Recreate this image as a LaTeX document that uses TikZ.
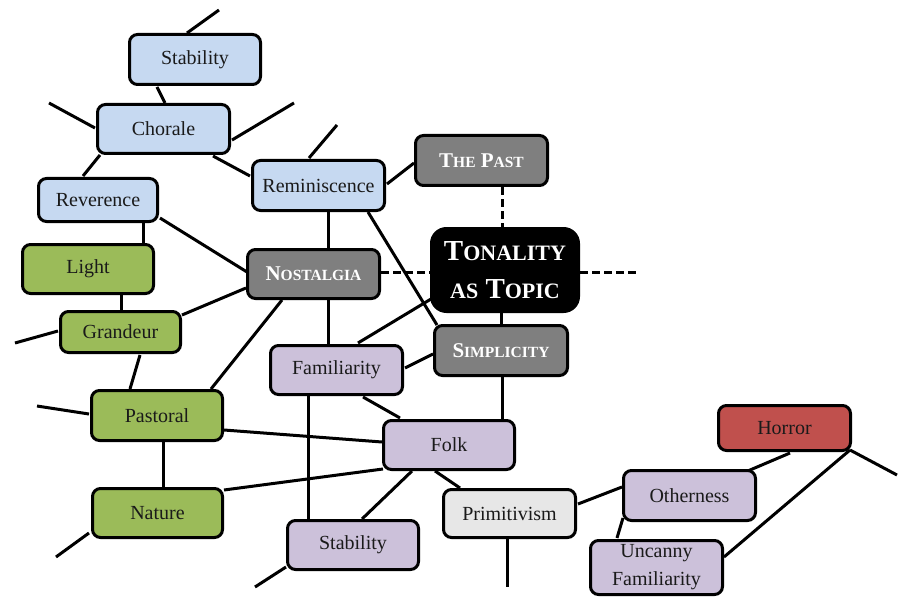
\documentclass[tikz,border=0pt]{standalone}
\usepackage{fontspec}
\setmainfont{Liberation Serif}
\usetikzlibrary{calc}
\definecolor{blueF}{HTML}{C6D9F1}
\definecolor{greenF}{HTML}{9BBB59}
\definecolor{greyF}{HTML}{7F7F7F}
\definecolor{purF}{HTML}{CCC1DA}
\definecolor{redF}{HTML}{C0504D}
\definecolor{lgF}{HTML}{E7E7E7}
\definecolor{txt}{HTML}{1A1A1A}
\pgfdeclarelayer{bg}
\pgfsetlayers{bg,main}
\newcommand\scA[1]{{\fontsize{15.5}{18}\selectfont #1}}
\newcommand\scB[1]{{\fontsize{22}{24}\selectfont #1}}
\tikzset{
  box/.style={draw=black, line width=3pt, rounded corners=8pt, inner sep=0pt,
    align=center, text=txt, font=\fontsize{20}{28}\selectfont},
  bluebox/.style={box, fill=blueF},
  greenbox/.style={box, fill=greenF},
  greybox/.style={box, fill=greyF, text=white, font=\fontsize{21}{24}\selectfont\bfseries},
  purbox/.style={box, fill=purF},
  redbox/.style={box, fill=redF},
  lgbox/.style={box, fill=lgF},
  centerbox/.style={box, fill=black, text=white, rounded corners=15pt,
    font=\fontsize{29}{38}\selectfont\bfseries},
  conn/.style={line width=3pt, black},
  dconn/.style={line width=3pt, black, dash pattern=on 8pt off 4pt},
}
\begin{document}
\begin{tikzpicture}[x=1pt,y=-1pt]
\useasboundingbox (0,0) rectangle (900,599);

\node[bluebox, minimum width=131pt, minimum height=50pt] (st1) at (195,59.5) {Stability};
\node[bluebox, minimum width=132pt, minimum height=49pt] (cho) at (163.5,129) {Chorale};
\node[bluebox, minimum width=119pt, minimum height=43pt] (rev) at (98,200) {Reverence};
\node[bluebox, minimum width=132pt, minimum height=50pt] (rem) at (318.5,185.5) {Reminiscence};
\node[greenbox, minimum width=131pt, minimum height=49pt] (lig) at (88,269) {Light};
\node[greybox, minimum width=132pt, minimum height=49pt] (nos) at (313.5,274) {N\scA{OSTALGIA}};
\node[greybox, minimum width=132pt, minimum height=50pt] (past) at (481.5,160.5) {T\scA{HE} P\scA{AST}};
\node[centerbox, minimum width=147pt, minimum height=83pt] (ton) at (505,270) {T\scB{ONALITY}\\\scB{AS} T\scB{OPIC}};
\node[greybox, minimum width=133pt, minimum height=50pt] (sim) at (501,350.5) {S\scA{IMPLICITY}};
\node[purbox, minimum width=132pt, minimum height=49pt] (fam) at (336.5,370) {Familiarity};
\node[purbox, minimum width=131pt, minimum height=49pt] (folk) at (449,445) {Folk};
\node[greenbox, minimum width=120pt, minimum height=41pt] (gra) at (120.5,332) {Grandeur};
\node[greenbox, minimum width=131pt, minimum height=50pt] (pas) at (157,415.5) {Pastoral};
\node[greenbox, minimum width=130pt, minimum height=49pt] (nat) at (157.5,513) {Nature};
\node[purbox, minimum width=131pt, minimum height=49pt] (st2) at (353,545) {Stability};
\node[lgbox, minimum width=132pt, minimum height=48pt] (pri) at (509.5,513.5) {Primitivism};
\node[purbox, minimum width=132pt, minimum height=50pt] (oth) at (689.5,495.5) {Otherness};
\node[purbox, minimum width=132pt, minimum height=54pt] (unc) at (656.5,567.5) {Uncanny\\Familiarity};
\node[redbox, minimum width=132pt, minimum height=45pt] (hor) at (784.5,428) {Horror};

\coordinate (f1) at (219,10);
\coordinate (f2) at (49,103);
\coordinate (f3) at (294,103);
\coordinate (f4) at (337,125);
\coordinate (f5) at (638,272);
\coordinate (f6) at (15,343);
\coordinate (f7) at (37,406);
\coordinate (f8) at (56,557);
\coordinate (f9) at (255,587);
\coordinate (f10) at (507,587);
\coordinate (f11) at (897,475);

\begin{pgfonlayer}{bg}
\fill[white] (0,0) rectangle (900,599);
\draw[conn] ($(st1)+(-8,-26.5)$) -- (f1);
\draw[conn] ($(st1)+(-38,27.5)$) -- ($(cho)+(1.5,-26)$);
\draw[conn] ($(cho)+(-68.5,-1)$) -- (f2);
\draw[conn] ($(cho)+(68.5,11)$) -- (f3);
\draw[conn] ($(cho)+(-63.5,26)$) -- ($(rev)+(-15,-24)$);
\draw[conn] ($(cho)+(49.5,27)$) -- ($(rem)+(-68.5,-9.5)$);
\draw[conn] ($(rem)+(-9.5,-27.5)$) -- (f4);
\draw[conn] ($(rem)+(68.5,-1.5)$) -- ($(past)+(-67.5,2.5)$);
\draw[conn] ($(rem)+(9.5,26.5)$) -- ($(nos)+(14.5,-26)$);
\draw[conn] ($(rem)+(49.5,26.5)$) -- ($(sim)+(-64,-25.5)$);
\draw[conn] ($(rev)+(45,23)$) -- ($(lig)+(55,-26)$);
\draw[conn] ($(rev)+(62,18)$) -- ($(nos)+(-66.5,-2)$);
\draw[dconn] ($(nos)+(67.5,-2)$) -- ($(ton)+(-75,2)$);
\draw[dconn] ($(past)+(20.5,26.5)$) -- ($(ton)+(-3,-43)$);
\draw[dconn] ($(ton)+(75,2)$) -- (f5);
\draw[conn] ($(gra)+(61.5,-17)$) -- ($(nos)+(-67.5,14)$);
\draw[conn] ($(gra)+(-62.5,-1)$) -- (f6);
\draw[conn] ($(lig)+(33,26)$) -- ($(gra)+(0.5,-22)$);
\draw[conn] ($(gra)+(19.5,23)$) -- ($(pas)+(-27,-26.5)$);
\draw[conn] ($(pas)+(-68,-1.5)$) -- (f7);
\draw[conn] ($(pas)+(54,-26.5)$) -- ($(nos)+(-31.5,26)$);
\draw[conn] ($(pas)+(67,14.5)$) -- ($(folk)+(-67,-3)$);
\draw[conn] ($(pas)+(6,26.5)$) -- ($(nat)+(5.5,-26)$);
\draw[conn] ($(nat)+(66.5,-23)$) -- ($(folk)+(-66,24)$);
\draw[conn] ($(nat)+(-68.5,20)$) -- (f8);
\draw[conn] ($(nos)+(14.5,26)$) -- ($(fam)+(-8.5,-26)$);
\draw[conn] ($(fam)+(21.5,-27)$) -- ($(ton)+(-74,29)$);
\draw[conn] ($(fam)+(68.5,-2)$) -- ($(sim)+(-68,3.5)$);
\draw[conn] ($(fam)+(26.5,27)$) -- ($(folk)+(-49,-27)$);
\draw[conn] ($(fam)+(-28.5,26)$) -- ($(st2)+(-45,-26)$);
\draw[conn] ($(ton)+(-4,43)$) -- ($(sim)+(0,-26.5)$);
\draw[conn] ($(sim)+(1,26.5)$) -- ($(folk)+(53,-26)$);
\draw[conn] ($(folk)+(-37,26)$) -- ($(st2)+(9,-26)$);
\draw[conn] ($(folk)+(-14,26)$) -- ($(pri)+(-49.5,-25.5)$);
\draw[conn] ($(st2)+(-67,22)$) -- (f9);
\draw[conn] ($(pri)+(-2.5,25.5)$) -- (f10);
\draw[conn] ($(pri)+(68.5,-9.5)$) -- ($(oth)+(-67.5,-8.5)$);
\draw[conn] ($(oth)+(-66.5,22.5)$) -- ($(unc)+(-39.5,-29.5)$);
\draw[conn] ($(oth)+(53.5,-22.5)$) -- ($(hor)+(5.5,25)$);
\draw[conn] ($(hor)+(65.5,22)$) -- ($(unc)+(67.5,-10.5)$);
\draw[conn] ($(hor)+(65.5,22)$) -- (f11);
\end{pgfonlayer}
\end{tikzpicture}
\end{document}
